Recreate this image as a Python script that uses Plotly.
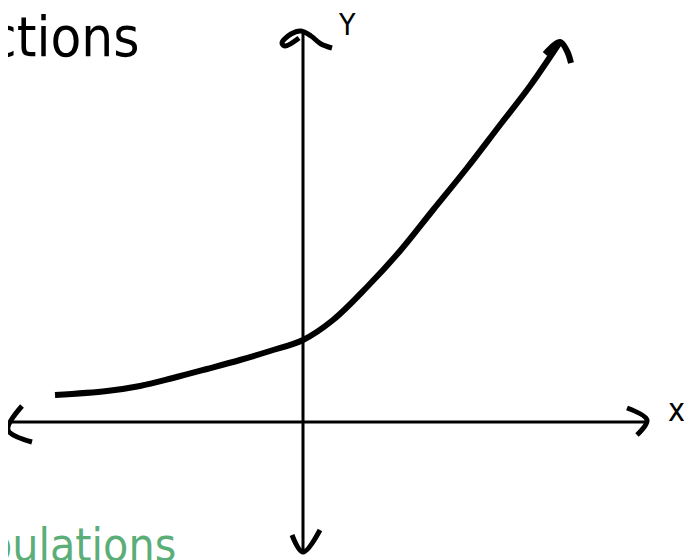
import plotly.graph_objects as go

# curve (math units, origin at the axes crossing)
curve_x = [-4.94, -3.90, -3.24, -2.58, -1.90, -1.24, -0.64, 0.02, 0.62, 1.30, 1.96, 2.62, 3.30, 3.96, 4.56, 5.16]
curve_y = [0.56, 0.64, 0.74, 0.90, 1.08, 1.26, 1.44, 1.66, 2.06, 2.72, 3.44, 4.26, 5.10, 5.96, 6.74, 7.62]
curve_head_x = [4.86, 5.16, 5.30, 5.38]
curve_head_y = [7.38, 7.62, 7.44, 7.20]

# hand drawn axes
yaxis_x = [0.02, 0.02]
yaxis_y = [7.80, -2.58]
xaxis_x = [-5.84, 6.90]
xaxis_y = [0.02, 0.02]

top_head_x = [-0.06, -0.34, -0.40, -0.22, -0.02, 0.18, 0.38, 0.60]
top_head_y = [7.70, 7.54, 7.60, 7.78, 7.84, 7.74, 7.58, 7.50]
bottom_head_x = [-0.20, 0.02, 0.36]
bottom_head_y = [-2.24, -2.58, -2.14]
right_head_x = [6.50, 6.90, 6.70]
right_head_y = [0.30, 0.06, -0.24]
left_head_x = [-5.60, -5.88, -5.40]
left_head_y = [0.34, -0.14, -0.38]

ink = '#000000'
hand = 'DejaVu Sans Condensed, Liberation Sans Narrow, sans-serif'

# page body has an 8px margin, so paper coords are offset by that
def px(x):
    return (x - 8) / 692

def py(y):
    return 1 - (y - 8) / 560

fig = go.Figure()
fig.add_trace(go.Scatter(x=yaxis_x, y=yaxis_y, mode='lines', line=dict(color=ink, width=3)))
fig.add_trace(go.Scatter(x=xaxis_x, y=xaxis_y, mode='lines', line=dict(color=ink, width=3)))
for hx, hy in [(top_head_x, top_head_y), (bottom_head_x, bottom_head_y),
               (right_head_x, right_head_y), (left_head_x, left_head_y)]:
    fig.add_trace(go.Scatter(x=hx, y=hy, mode='lines', line=dict(color=ink, width=5, shape='spline')))
fig.add_trace(go.Scatter(x=curve_x, y=curve_y, mode='lines',
                         line=dict(color=ink, width=6, shape='spline')))
fig.add_trace(go.Scatter(x=curve_head_x, y=curve_head_y, mode='lines',
                         line=dict(color=ink, width=6, shape='spline')))

fig.add_annotation(text='Y', xref='paper', yref='paper', x=px(347), y=py(24), showarrow=False,
                   xanchor='center', yanchor='middle', font=dict(family=hand, size=30, color=ink))
fig.add_annotation(text='x', xref='paper', yref='paper', x=px(676), y=py(410), showarrow=False,
                   xanchor='center', yanchor='middle', font=dict(family=hand, size=32, color=ink))
fig.add_annotation(text='ctions', xref='paper', yref='paper', x=px(141), y=py(36),
                   showarrow=False, xanchor='right', yanchor='middle',
                   font=dict(family=hand, size=56, color=ink))
fig.add_annotation(text='pulations', xref='paper', yref='paper', x=px(178), y=py(545),
                   showarrow=False, xanchor='right', yanchor='middle',
                   font=dict(family=hand, size=46, color='#5bae78'))

fig.update_layout(
    width=692, height=560,
    margin=dict(l=0, r=0, t=0, b=0),
    paper_bgcolor='white',
    plot_bgcolor='white',
    showlegend=False,
    hovermode=False,
    xaxis=dict(range=[-5.88, 7.96], visible=False, fixedrange=True),
    yaxis=dict(range=[-2.90, 8.30], visible=False, fixedrange=True),
)
fig.write_html("out.html")
